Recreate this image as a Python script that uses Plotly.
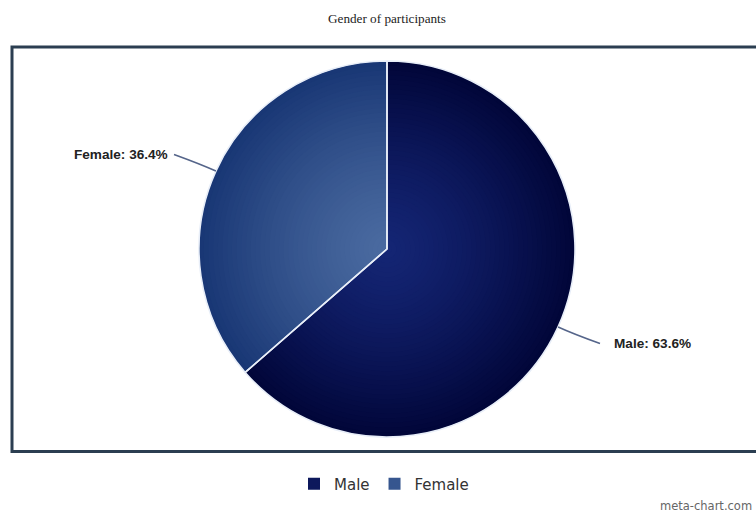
import math
import plotly.graph_objects as go

# ---- data ----
title_text = "Gender of participants"
labels = ["Male", "Female"]
values = [63.6, 36.4]
watermark = "meta-chart.com"

# ---- styling / layout constants ----
W, H = 756, 512
CX, CY, R = 387, 249, 188
center_cols = [(20, 37, 116), (74, 106, 160)]
edge_cols = [(1, 5, 56), (24, 54, 116)]
N_RINGS = 40


def px(x):
    return x / W


def py(y):
    return 1 - y / H


def dom(r):
    return dict(x=[px(CX - r), px(CX + r)], y=[py(CY + r), py(CY - r)])


def lerp(a, b, t):
    return "rgb(%d,%d,%d)" % tuple(round(a[i] + (b[i] - a[i]) * t) for i in range(3))


fig = go.Figure()

# stacked pies of decreasing size give a radial gradient per slice
legend_ring = N_RINGS // 2
for k in range(N_RINGS):
    frac = 1 - k / N_RINGS
    tmid = max(0.0, frac - 0.5 / N_RINGS)
    t = tmid ** 1.3
    cols = [lerp(center_cols[i], edge_cols[i], t) for i in range(len(labels))]
    fig.add_trace(go.Pie(
        labels=labels, values=values, sort=False, direction="clockwise", rotation=0,
        domain=dom(R * frac), marker=dict(colors=cols, line=dict(width=0)),
        textinfo="none", hoverinfo="label+percent",
        showlegend=(k == legend_ring),
    ))

# separators / outline
fig.add_trace(go.Pie(
    labels=labels, values=values, sort=False, direction="clockwise", rotation=0,
    domain=dom(R), marker=dict(colors=["rgba(0,0,0,0)"] * len(labels),
                               line=dict(color="#e8eef8", width=1.6)),
    textinfo="none", hoverinfo="skip", showlegend=False,
))

shapes = []
annotations = []
total = sum(values)
cum = 0
for lab, v in zip(labels, values):
    mid = (cum + v / 2) / total * 2 * math.pi
    cum += v
    s, c = math.sin(mid), math.cos(mid)
    x0, y0 = CX + R * s, CY - R * c
    xc, yc = CX + (R + 16) * s, CY - (R + 16) * c
    side = 1 if s >= 0 else -1
    x2 = CX + side * (R + 25)
    y2 = CY - (R + 40) * c
    shapes.append(dict(
        type="path", xref="paper", yref="paper",
        path="M %f,%f Q %f,%f %f,%f" % (px(x0), py(y0), px(xc), py(yc), px(x2), py(y2)),
        line=dict(color="#55658a", width=1.6),
    ))
    annotations.append(dict(
        x=px(x2 + side * (12 if side > 0 else 4)), y=py(y2), xref="paper", yref="paper",
        xanchor="left" if side > 0 else "right", yanchor="middle", showarrow=False,
        text="<b>%s: %.1f%%</b>" % (lab, v / total * 100),
        font=dict(family="Liberation Sans, Arial", size=13.6, color="#222222"),
    ))

# frame
shapes.append(dict(type="rect", xref="paper", yref="paper",
                   x0=px(12), x1=px(W + 20), y0=py(451.5), y1=py(47),
                   line=dict(color="#2b3e51", width=3), layer="below"))

annotations.append(dict(
    x=px(387), y=py(18), xref="paper", yref="paper", showarrow=False,
    xanchor="center", yanchor="middle", text=title_text,
    font=dict(family="Liberation Serif, Times New Roman, serif", size=13.2, color="#222222"),
))
annotations.append(dict(
    x=px(754), y=py(506), xref="paper", yref="paper", showarrow=False,
    xanchor="right", yanchor="middle", text=watermark,
    font=dict(family="DejaVu Sans, sans-serif", size=11.5, color="#666666"),
))

fig.update_layout(
    width=W, height=H, margin=dict(l=0, r=0, t=0, b=0),
    paper_bgcolor="white", plot_bgcolor="white",
    shapes=shapes, annotations=annotations,
    legend=dict(orientation="h", x=px(384), xanchor="center", y=py(484), yanchor="middle",
                font=dict(family="DejaVu Sans, sans-serif", size=15, color="#333333"),
                itemwidth=30, traceorder="normal"),
)

fig.write_html("out.html")
